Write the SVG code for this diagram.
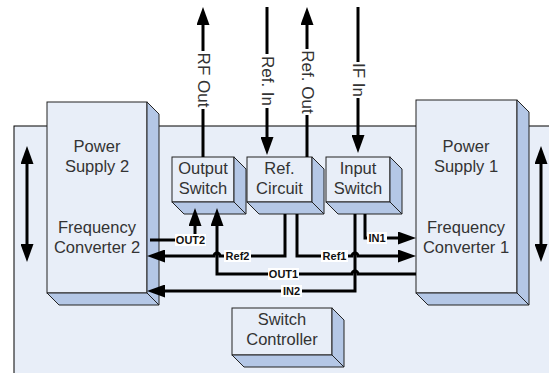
<svg xmlns="http://www.w3.org/2000/svg" width="549" height="373" viewBox="0 0 549 373">
<style>
.front{fill:#E8EEF8;stroke:#222;stroke-width:1}
.side{fill:#B4C7E6;stroke:#222;stroke-width:1}
.big{font-family:"Liberation Sans",Arial,sans-serif;font-size:16.5px;fill:#333;text-anchor:middle}
.rot{font-family:"Liberation Sans",Arial,sans-serif;font-size:17px;fill:#333;text-anchor:middle;dominant-baseline:central}
.lbl{font-family:"Liberation Sans",Arial,sans-serif;font-size:11px;font-weight:bold;fill:#111;text-anchor:middle;dominant-baseline:central}
.wire{fill:none;stroke:#000;stroke-width:3}
.arr{fill:none;stroke:#000;stroke-width:3;marker-end:url(#ah)}
.lb{fill:#fff}
</style>
<defs>
<marker id="ah" markerUnits="userSpaceOnUse" markerWidth="18" markerHeight="13" refX="8" refY="6.5" orient="auto-start-reverse" viewBox="0 0 18 13">
<path d="M0,0 L18,6.5 L0,13 z" fill="#000"/>
</marker>
</defs>
<rect x="14" y="126" width="545" height="260" fill="#E8EEF8" stroke="#000" stroke-width="1"/>

<g id="ps2">
<rect class="front" x="47" y="102" width="100" height="191"/>
<polygon class="side" points="147,102 159,114 159,305 147,293"/>
<polygon class="side" points="47,293 147,293 159,305 59,305"/>
<text class="big" x="97" y="152">Power</text>
<text class="big" x="97" y="172">Supply 2</text>
<text class="big" x="97" y="233">Frequency</text>
<text class="big" x="97" y="253">Converter 2</text>
</g>
<g id="ps1">
<rect class="front" x="416" y="100" width="101" height="193"/>
<polygon class="side" points="517,100 529,112 529,305 517,293"/>
<polygon class="side" points="416,293 517,293 529,305 428,305"/>
<text class="big" x="466" y="152">Power</text>
<text class="big" x="466" y="172">Supply 1</text>
<text class="big" x="466" y="233">Frequency</text>
<text class="big" x="466" y="253">Converter 1</text>
</g>
<g id="output-switch">
<rect class="front" x="172" y="157" width="62" height="45"/>
<polygon class="side" points="234,157 246,169 246,214 234,202"/>
<polygon class="side" points="172,202 234,202 246,214 184,214"/>
<text class="big" x="203" y="174">Output</text>
<text class="big" x="203" y="194">Switch</text>
</g>
<g id="ref-circuit">
<rect class="front" x="247" y="157" width="65" height="45"/>
<polygon class="side" points="312,157 324,169 324,214 312,202"/>
<polygon class="side" points="247,202 312,202 324,214 259,214"/>
<text class="big" x="279.5" y="174">Ref.</text>
<text class="big" x="279.5" y="194">Circuit</text>
</g>
<g id="input-switch">
<rect class="front" x="326" y="157" width="64" height="45"/>
<polygon class="side" points="390,157 402,169 402,214 390,202"/>
<polygon class="side" points="326,202 390,202 402,214 338,214"/>
<text class="big" x="358" y="174">Input</text>
<text class="big" x="358" y="194">Switch</text>
</g>
<g id="switch-controller">
<rect class="front" x="232" y="308" width="100" height="47"/>
<polygon class="side" points="332,308 344,320 344,367 332,355"/>
<polygon class="side" points="232,355 332,355 344,367 244,367"/>
<text class="big" x="282" y="325">Switch</text>
<text class="big" x="282" y="345">Controller</text>
</g>

<g id="connectors">
<path class="arr" d="M27,156 V252" marker-start="url(#ah)"/>
<path class="arr" d="M541,156 V252" marker-start="url(#ah)"/>

<path class="arr" d="M203,157 V17"/>
<path class="arr" d="M267,7 V145"/>
<path class="arr" d="M307,157 V17"/>
<path class="arr" d="M358,7 V143"/>

<path class="arr" d="M150,240 H195 V218"/>
<path class="arr" d="M416,274 H358 a3,3 0 0 0 -6,0 H217 V218"/>
<path class="arr" d="M285,214 V256 H220 a3,3 0 0 0 -6,0 H157"/>
<path class="arr" d="M297,214 V256 H352 a3,3 0 0 1 6,0 H406"/>
<path class="arr" d="M365,214 V238 H406"/>
<path class="arr" d="M355,214 V291 H157"/>

<g transform="translate(203,80) rotate(90)"><rect class="lb" x="-29" y="-7" width="58" height="14"/><text class="rot" x="0" y="0">RF Out</text></g>
<g transform="translate(267,81) rotate(90)"><rect class="lb" x="-27" y="-7" width="54" height="14"/><text class="rot" x="0" y="0">Ref. In</text></g>
<g transform="translate(307,82) rotate(90)"><rect class="lb" x="-33" y="-7" width="66" height="14"/><text class="rot" x="0" y="0">Ref. Out</text></g>
<g transform="translate(358,80) rotate(90)"><rect class="lb" x="-18" y="-7" width="36" height="14"/><text class="rot" x="0" y="0">IF In</text></g>

<rect class="lb" x="175" y="234" width="31" height="12"/><text class="lbl" x="190.5" y="240">OUT2</text>
<rect class="lb" x="224" y="250" width="27" height="12"/><text class="lbl" x="237.5" y="256">Ref2</text>
<rect class="lb" x="321" y="250" width="27" height="12"/><text class="lbl" x="334.5" y="256">Ref1</text>
<rect class="lb" x="268" y="268" width="31" height="12"/><text class="lbl" x="283.5" y="274">OUT1</text>
<rect class="lb" x="281" y="285" width="21" height="12"/><text class="lbl" x="291.5" y="291">IN2</text>
<rect class="lb" x="367" y="232" width="20" height="12"/><text class="lbl" x="377" y="238">IN1</text>
</g>
</svg>
